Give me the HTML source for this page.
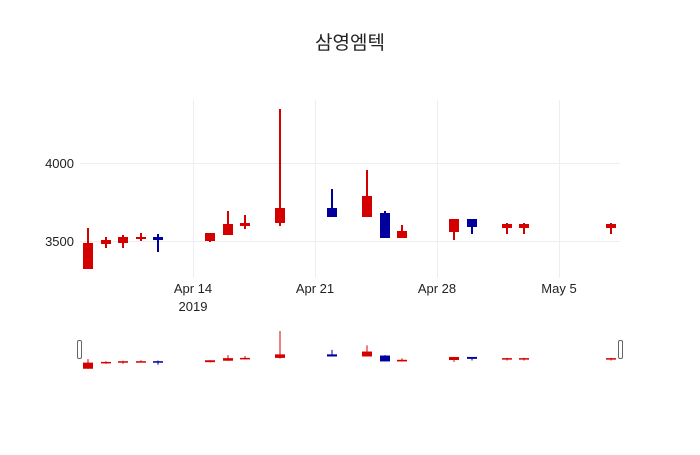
<!DOCTYPE html>
<html><head><meta charset="utf-8"><style>
body{margin:0;background:#fff}
svg text{font-family:"Liberation Sans","Noto Sans CJK KR",sans-serif;fill:#222}
</style></head><body>
<svg width="700" height="450" xmlns="http://www.w3.org/2000/svg">
<rect width="700" height="450" fill="#fff"/>
<text x="350" y="49" text-anchor="middle" font-size="19" style="fill:#222">삼영엠텍</text>
<g stroke="#eee" stroke-width="1">
<line x1="80" x2="620" y1="163.5" y2="163.5"/>
<line x1="80" x2="620" y1="241.5" y2="241.5"/>
<line x1="193.5" x2="193.5" y1="100" y2="278"/>
<line x1="315.5" x2="315.5" y1="100" y2="278"/>
<line x1="437.5" x2="437.5" y1="100" y2="278"/>
<line x1="559.5" x2="559.5" y1="100" y2="278"/>
</g>
<g font-size="13">
<text x="74" y="168" text-anchor="end">4000</text>
<text x="74" y="246" text-anchor="end">3500</text>
<text x="193" y="293" text-anchor="middle">Apr 14</text>
<text x="193" y="311" text-anchor="middle">2019</text>
<text x="315" y="293" text-anchor="middle">Apr 21</text>
<text x="437" y="293" text-anchor="middle">Apr 28</text>
<text x="559" y="293" text-anchor="middle">May 5</text>
</g>
<g id="c" stroke-width="2"></g>
<script>
var d=[[88,228,269,243,269,'r'],[106,237,248,240,244,'r'],[123,235,248,237,243,'r'],[141,233,241,237,239,'r'],[158,234,252,237,240,'b'],
[210,233,242,233,241,'r'],[228,211,235,224,235,'r'],[245,215,229,223,226,'r'],[280,109,226,208,223,'r'],[332,189,217,208,217,'b'],
[367,170,217,196,217,'r'],[385,211,238,213,238,'b'],[402,225,238,231,238,'r'],[454,219,240,219,232,'r'],[472,219,234,219,227,'b'],
[507,223,234,224,228,'r'],[524,223,234,224,228,'r'],[611,223,234,224,228,'r']];
var ns="http://www.w3.org/2000/svg",g=document.getElementById('c');
function add(t,a){var e=document.createElementNS(ns,t);for(var k in a)e.setAttribute(k,a[k]);g.appendChild(e);}
d.forEach(function(c){var col=c[5]=='r'?'#d40000':'#00009e';
add('line',{x1:c[0],x2:c[0],y1:c[1],y2:c[2],stroke:col,'stroke-width':2});
add('rect',{x:c[0]-5,y:c[3],width:10,height:Math.max(2,c[4]-c[3]),fill:col});
function m(y){return 331+(y-109)*0.236;}
add('line',{x1:c[0],x2:c[0],y1:m(c[1]),y2:m(c[2]),stroke:col,'stroke-width':1});
add('rect',{x:c[0]-5,y:m(c[3]),width:10,height:Math.max(1.5,m(c[4])-m(c[3])),fill:col});
});
</script>
<rect x="77.5" y="340.5" width="4" height="18" rx="1.5" fill="#fff" stroke="#666"/>
<rect x="618.5" y="340.5" width="4" height="18" rx="1.5" fill="#fff" stroke="#666"/>
</svg>
</body></html>
